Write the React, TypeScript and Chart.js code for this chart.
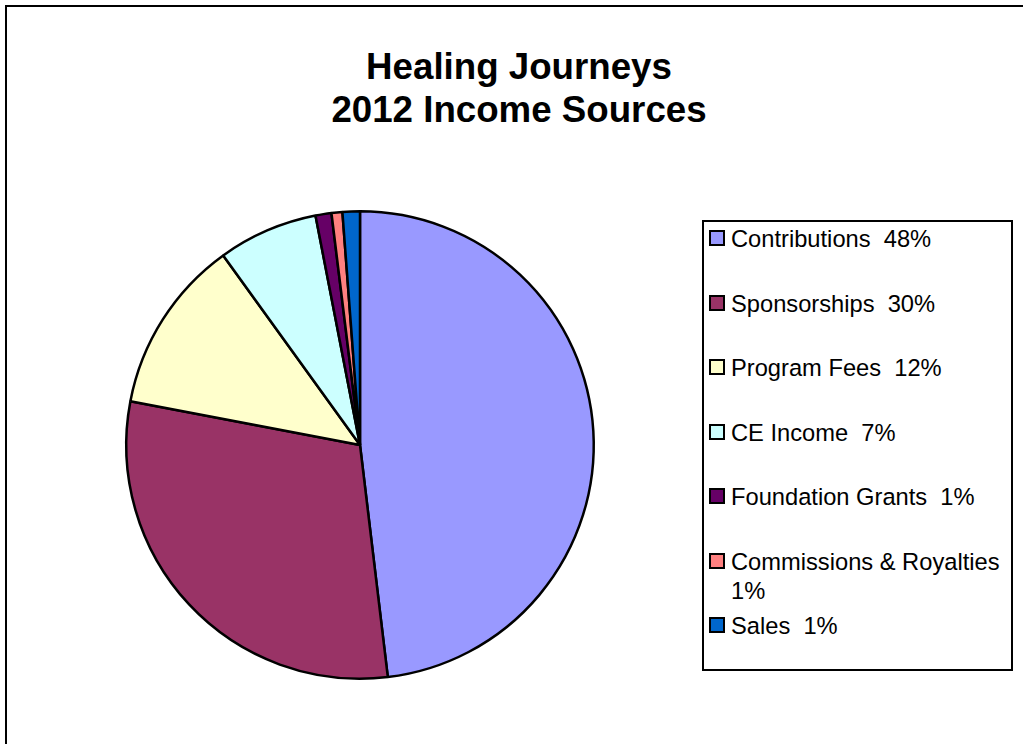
import React, { useEffect, useRef } from "react";
import { Chart, registerables } from "chart.js";

Chart.register(...registerables);

const titleLines = ["Healing Journeys", "2012 Income Sources"];
const categories = [
  "Contributions",
  "Sponsorships",
  "Program Fees",
  "CE Income",
  "Foundation Grants",
  "Commissions & Royalties",
  "Sales",
];
const shares = [48.1, 29.9, 12.05, 6.9, 1.1, 0.75, 1.2];
const shareLabels = ["48%", "30%", "12%", "7%", "1%", "1%", "1%"];
const colors = ["#9999FF", "#993366", "#FFFFCC", "#CCFFFF", "#660066", "#FF8080", "#0066CC"];

const FONT = '"Liberation Sans", Arial, Helvetica, sans-serif';

export default function App() {
  const canvasRef = useRef<HTMLCanvasElement | null>(null);

  useEffect(() => {
    document.body.style.margin = "0";
    const chart = new Chart(canvasRef.current as HTMLCanvasElement, {
      type: "pie",
      data: {
        labels: categories,
        datasets: [
          {
            data: shares,
            backgroundColor: colors,
            borderColor: "#000000",
            borderWidth: 2.5,
          },
        ],
      },
      options: {
        animation: false,
        responsive: false,
        maintainAspectRatio: false,
        layout: { padding: 15 },
        plugins: {
          legend: { display: false },
          tooltip: { enabled: false },
          title: { display: false },
        },
      },
    });
    return () => chart.destroy();
  }, []);

  return (
    <div
      style={{
        position: "fixed",
        left: 0,
        top: 0,
        width: 1023,
        height: 744,
        overflow: "hidden",
        background: "#ffffff",
        fontFamily: FONT,
      }}
    >
      <div
        style={{
          position: "absolute",
          left: 5,
          top: 5,
          width: 1060,
          height: 780,
          border: "2px solid #000",
          boxSizing: "border-box",
        }}
      />
      <div
        style={{
          position: "absolute",
          left: 0,
          top: 45,
          width: 1038,
          textAlign: "center",
          fontWeight: "bold",
          fontSize: 36.7,
          lineHeight: "43px",
          color: "#000",
        }}
      >
        {titleLines.map((t, i) => (
          <div key={i}>{t}</div>
        ))}
      </div>
      <canvas
        ref={canvasRef}
        width={500}
        height={500}
        style={{ position: "absolute", left: 110, top: 195, width: 500, height: 500 }}
      />
      <div
        style={{
          position: "absolute",
          left: 702,
          top: 220,
          width: 311,
          height: 451,
          border: "2px solid #000",
          boxSizing: "border-box",
          background: "#fff",
        }}
      />
      {categories.map((c, i) => {
        const cy = 238 + 64.5 * i;
        return (
          <React.Fragment key={c}>
            <div
              style={{
                position: "absolute",
                left: 709,
                top: cy - 8,
                width: 16,
                height: 16,
                border: "2px solid #000",
                boxSizing: "border-box",
                background: colors[i],
              }}
            />
            <div
              style={{
                position: "absolute",
                left: 731,
                top: cy - 13,
                width: 278,
                fontSize: 23.7,
                lineHeight: "29px",
                color: "#000",
                whiteSpace: "pre-wrap",
              }}
            >
              {c + "  " + shareLabels[i]}
            </div>
          </React.Fragment>
        );
      })}
    </div>
  );
}
